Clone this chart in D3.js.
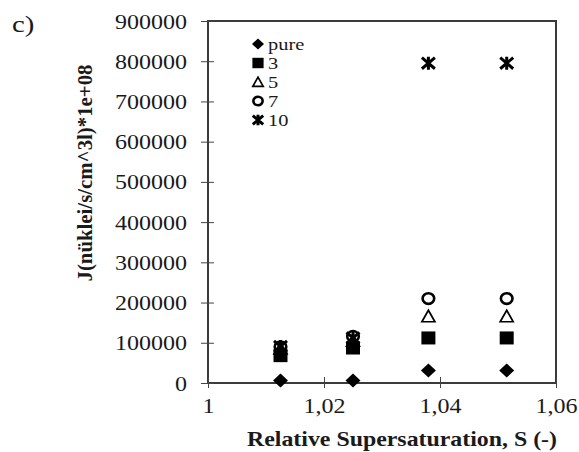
<!DOCTYPE html>
<html>
<head>
<meta charset="utf-8">
<script src="https://cdn.jsdelivr.net/npm/d3@7"></script>
<style>
  body { margin: 0; background: #fff; }
  text { font-family: "Liberation Serif", "Times New Roman", serif; fill: #1a1a1a; }
</style>
</head>
<body>
<svg id="chart"></svg>
<script>
// data
const sValues = [1.0125, 1.025, 1.038, 1.0515];
const purePts = [6000, 6000, 31000, 31000];
const conc3 = [68000, 87000, 112000, 112000];
const conc5 = [86000, 105000, 166000, 166000];
const conc7 = [90000, 116000, 210000, 210000];
const conc10 = [91000, 112000, 795000, 795000];
const seriesNames = ["pure", "3", "5", "7", "10"];
const seriesShapes = ["diamond", "square", "triangle", "circle", "star"];
const yTicks = [0, 100000, 200000, 300000, 400000, 500000, 600000, 700000, 800000, 900000];
const xTicks = [1, 1.02, 1.04, 1.06];
const xTickLabels = ["1", "1,02", "1,04", "1,06"];

class ScatterChart {
  constructor(_config) {
    this.config = {
      parentElement: _config.parentElement,
      containerWidth: _config.containerWidth || 579,
      containerHeight: _config.containerHeight || 452,
      margin: { top: 21, bottom: 69, right: 23, left: 208 }
    }
    this.initVis();
  }

  // draw one marker centred on 0,0
  drawMarker(g, shape, k) {
    if (shape == "diamond") {
      g.append("path").attr("d", `M0,${-7*k}L${7.5*k},0L0,${7*k}L${-7.5*k},0Z`).attr("fill", "#000");
    } else if (shape == "square") {
      g.append("rect").attr("x", -7*k).attr("y", -6.5*k).attr("width", 14*k).attr("height", 13*k).attr("fill", "#000");
    } else if (shape == "triangle") {
      g.append("path").attr("d", `M0,${-6*k}L${6.5*k},${5.5*k}L${-6.5*k},${5.5*k}Z`)
        .attr("fill", "none").attr("stroke", "#000").attr("stroke-width", 1.7);
    } else if (shape == "circle") {
      g.append("ellipse").attr("rx", 5.8*k).attr("ry", 5.3*k)
        .attr("fill", "none").attr("stroke", "#000").attr("stroke-width", 2.6);
    } else {
      let s = 6.5*k
      g.append("path").attr("d", `M${-s},${-s*0.85}L${s},${s*0.85}M${s},${-s*0.85}L${-s},${s*0.85}M0,${-s}L0,${s}`)
        .attr("stroke", "#000").attr("stroke-width", 3).attr("fill", "none");
    }
  }

  initVis() {
    let vis = this;
    const m = vis.config.margin;
    vis.width = vis.config.containerWidth - m.left - m.right;
    vis.height = vis.config.containerHeight - m.top - m.bottom;

    vis.svg = d3.select(vis.config.parentElement)
      .attr('width', vis.config.containerWidth)
      .attr('height', vis.config.containerHeight);

    vis.xScale = d3.scaleLinear().domain([1, 1.06]).range([0, vis.width]);
    vis.yScale = d3.scaleLinear().domain([0, 900000]).range([vis.height, 0]);

    vis.chart = vis.svg.append('g')
      .attr('transform', `translate(${m.left},${m.top})`);

    // frame
    vis.chart.append("rect")
      .attr("width", vis.width).attr("height", vis.height)
      .attr("fill", "none").attr("stroke", "#3a3a3a").attr("stroke-width", 2);

    // y axis
    let yAxis = vis.chart.append("g")
      .call(d3.axisLeft(vis.yScale).tickValues(yTicks).tickSize(7).tickFormat(d => d));
    yAxis.select(".domain").remove();
    yAxis.selectAll(".tick line").attr("x1", 6).attr("x2", -7).attr("stroke", "#444");
    yAxis.selectAll(".tick text").remove();
    yAxis.selectAll(".tick").append("text")
      .attr("transform", "translate(-21,0) scale(1.2,1)")
      .attr("text-anchor", "end").attr("dy", "0.35em")
      .style("font-size", "20px").attr("fill", "#1a1a1a")
      .text(d => d);

    // x axis
    let xAxis = vis.chart.append("g")
      .attr("transform", `translate(0,${vis.height})`)
      .call(d3.axisBottom(vis.xScale).tickValues(xTicks).tickSize(5));
    xAxis.select(".domain").remove();
    xAxis.selectAll(".tick line").attr("y1", -6).attr("y2", 5).attr("stroke", "#444");
    xAxis.selectAll(".tick text").remove();
    xAxis.selectAll(".tick").append("text")
      .attr("transform", "translate(0,30) scale(1.2,1)")
      .attr("text-anchor", "middle")
      .style("font-size", "20px").attr("fill", "#1a1a1a")
      .text((d, i) => xTickLabels[i]);

    // axis titles
    vis.svg.append("text")
      .attr("x", 402).attr("y", 446)
      .attr("text-anchor", "middle")
      .attr("textLength", 310).attr("lengthAdjust", "spacingAndGlyphs")
      .style("font-size", "22px").style("font-weight", "bold")
      .text("Relative Supersaturation, S (-)");

    vis.svg.append("text")
      .attr("transform", "translate(92,173) rotate(-90)")
      .attr("text-anchor", "middle")
      .attr("textLength", 217).attr("lengthAdjust", "spacingAndGlyphs")
      .style("font-size", "22px").style("font-weight", "bold")
      .text("J(nüklei/s/cm^3l)*1e+08");

    vis.svg.append("text")
      .attr("transform", "translate(12,32) scale(1.2,1)")
      .style("font-size", "24px")
      .text("c)");

    // points
    const allSeries = [purePts, conc3, conc5, conc7, conc10];
    allSeries.forEach(function (vals, si) {
      vals.forEach(function (v, i) {
        let g = vis.chart.append("g")
          .attr("transform", `translate(${vis.xScale(sValues[i])},${vis.yScale(v)})`);
        vis.drawMarker(g, seriesShapes[si], 1);
      })
    })

    // legend
    let y = 44
    seriesNames.forEach(function (item, index) {
      let g = vis.svg.append("g").attr("transform", `translate(258,${y})`);
      vis.drawMarker(g, seriesShapes[index], 0.8);
      vis.svg.append("text")
        .attr("transform", `translate(268,${y}) scale(1.2,1)`)
        .attr("dy", "0.35em")
        .style("font-size", "17px")
        .text(item);
      y += 19
    })
  }
}

new ScatterChart({ parentElement: "#chart" });
</script>
</body>
</html>
